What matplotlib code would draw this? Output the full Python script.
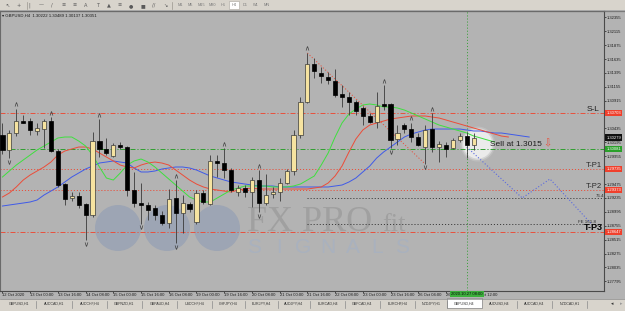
import numpy as np
import matplotlib
matplotlib.use('Agg')
import matplotlib.pyplot as plt
from matplotlib.patches import Rectangle, Circle
from matplotlib.transforms import blended_transform_factory, ScaledTranslation, IdentityTransform, offset_copy

plt.rcParams['font.family'] = ['Liberation Sans', 'DejaVu Sans']
plt.rcParams['lines.scale_dashes'] = False

# ---------------- data (GBPUSD H4) ----------------
opens = [1.30323, 1.30063, 1.30357, 1.30564, 1.30564, 1.30400, 1.30426, 1.30564, 1.30046, 1.29476,
         1.29235, 1.29269, 1.29131, 1.28941, 1.30219, 1.30081, 1.29960, 1.30150, 1.30115, 1.29373,
         1.29148, 1.29114, 1.29062, 1.28941, 1.28803, 1.29235, 1.28975, 1.29131, 1.28820, 1.29321,
         1.29131, 1.29874, 1.29839, 1.29718, 1.29338, 1.29407, 1.29347, 1.29545, 1.29148, 1.29304,
         1.29330, 1.29502, 1.29709, 1.30323, 1.30898, 1.31544, 1.31398, 1.31329, 1.31260, 1.31025,
         1.30974, 1.30898, 1.30784, 1.30651, 1.30552, 1.30858, 1.30858, 1.30245, 1.30495, 1.30421,
         1.30288, 1.30115, 1.30426, 1.30107, 1.30150, 1.30093, 1.30228, 1.30310, 1.30158]
highs = [1.30530, 1.30409, 1.30772, 1.30668, 1.30616, 1.30530, 1.30599, 1.30633, 1.30081, 1.29494,
         1.29338, 1.29338, 1.29148, 1.30374, 1.30599, 1.30271, 1.30184, 1.30202, 1.30133, 1.29684,
         1.29494, 1.29165, 1.29114, 1.29010, 1.29390, 1.29545, 1.29286, 1.29165, 1.29373, 1.29373,
         1.29977, 1.29977, 1.30098, 1.29753, 1.29459, 1.29459, 1.29597, 1.29718, 1.29649, 1.29425,
         1.29580, 1.29735, 1.30409, 1.30979, 1.31739, 1.31652, 1.31497, 1.31416, 1.31457, 1.31186,
         1.31070, 1.30927, 1.30823, 1.30702, 1.31070, 1.31186, 1.30875, 1.30495, 1.30535, 1.30530,
         1.30357, 1.30495, 1.30702, 1.30224, 1.30207, 1.30271, 1.30352, 1.30379, 1.30357]
lows = [1.29994, 1.29925, 1.30305, 1.30530, 1.30323, 1.30323, 1.30098, 1.30029, 1.29425, 1.29114,
        1.29183, 1.29062, 1.28509, 1.28906, 1.29943, 1.29977, 1.29943, 1.30081, 1.29269, 1.29079,
        1.28786, 1.28855, 1.28855, 1.28768, 1.28716, 1.28457, 1.28630, 1.28993, 1.28786, 1.29131,
        1.29114, 1.29597, 1.29580, 1.29338, 1.29269, 1.29252, 1.29079, 1.28993, 1.29114, 1.29235,
        1.29183, 1.29476, 1.29632, 1.30271, 1.30875, 1.31307, 1.31221, 1.31203, 1.30984, 1.30811,
        1.30668, 1.30668, 1.30495, 1.30530, 1.30443, 1.30754, 1.30098, 1.30150, 1.30362, 1.30207,
        1.30133, 1.29822, 1.30029, 1.29861, 1.29948, 1.30081, 1.30207, 1.29920, 1.30063]
closes = [1.30063, 1.30357, 1.30564, 1.30538, 1.30409, 1.30443, 1.30556, 1.30046, 1.29459, 1.29217,
          1.29269, 1.29114, 1.28941, 1.30219, 1.30081, 1.30012, 1.30150, 1.30124, 1.29373, 1.29148,
          1.29122, 1.29019, 1.28941, 1.28803, 1.29217, 1.28975, 1.29148, 1.29045, 1.29321, 1.29165,
          1.29874, 1.29839, 1.29718, 1.29373, 1.29407, 1.29347, 1.29545, 1.29157, 1.29295, 1.29338,
          1.29502, 1.29706, 1.30323, 1.30898, 1.31544, 1.31433, 1.31341, 1.31272, 1.31013, 1.30974,
          1.30898, 1.30737, 1.30651, 1.30552, 1.30823, 1.30832, 1.30236, 1.30357, 1.30426, 1.30293,
          1.30150, 1.30409, 1.30115, 1.30162, 1.30089, 1.30228, 1.30310, 1.30155, 1.30279]

# Alligator lines (lips green shifted 3, teeth red shifted 5, jaw blue shifted 8)
lips = [1.29597, 1.29701, 1.29804, 1.29891, 1.29977, 1.30064, 1.30133, 1.30202, 1.30271, 1.30288,
        1.30288, 1.30219, 1.30133, 1.29977, 1.29770, 1.29580, 1.29545, 1.29666, 1.29804, 1.29874,
        1.29908, 1.29856, 1.29770, 1.29666, 1.29563, 1.29459, 1.29355, 1.29252, 1.29200, 1.29166,
        1.29166, 1.29235, 1.29304, 1.29373, 1.29407, 1.29442, 1.29442, 1.29442, 1.29442, 1.29425,
        1.29425, 1.29425, 1.29442, 1.29476, 1.29545, 1.29615, 1.29804, 1.30012, 1.30288, 1.30530,
        1.30685, 1.30772, 1.30841, 1.30858, 1.30841, 1.30806, 1.30806, 1.30789, 1.30754, 1.30703,
        1.30651, 1.30599, 1.30547, 1.30495, 1.30461, 1.30426, 1.30392, 1.30357, 1.30305, 1.30271,
        1.30236, 1.30202]
teeth = [1.29252, 1.29321, 1.29425, 1.29545, 1.29632, 1.29701, 1.29770, 1.29856, 1.29977, 1.30046,
         1.30081, 1.30115, 1.30115, 1.30081, 1.30012, 1.29943, 1.29874, 1.29804, 1.29770, 1.29753,
         1.29804, 1.29839, 1.29856, 1.29839, 1.29804, 1.29718, 1.29632, 1.29545, 1.29476, 1.29425,
         1.29390, 1.29373, 1.29355, 1.29338, 1.29373, 1.29390, 1.29407, 1.29390, 1.29390, 1.29390,
         1.29390, 1.29390, 1.29390, 1.29390, 1.29390, 1.29407, 1.29425, 1.29494, 1.29615, 1.29787,
         1.30029, 1.30254, 1.30409, 1.30495, 1.30530, 1.30564, 1.30599, 1.30616, 1.30633, 1.30651,
         1.30651, 1.30651, 1.30633, 1.30616, 1.30582, 1.30547, 1.30513, 1.30478, 1.30443, 1.30409,
         1.30374, 1.30340, 1.30305, 1.30288]
jaw = [1.29096, 1.29114, 1.29131, 1.29148, 1.29166, 1.29200, 1.29286, 1.29355, 1.29425, 1.29511,
       1.29597, 1.29666, 1.29735, 1.29787, 1.29839, 1.29856, 1.29874, 1.29856, 1.29839, 1.29753,
       1.29684, 1.29684, 1.29701, 1.29735, 1.29753, 1.29770, 1.29770, 1.29753, 1.29718, 1.29666,
       1.29615, 1.29580, 1.29545, 1.29511, 1.29494, 1.29476, 1.29459, 1.29442, 1.29442, 1.29442,
       1.29425, 1.29425, 1.29425, 1.29425, 1.29425, 1.29425, 1.29425, 1.29425, 1.29442, 1.29459,
       1.29511, 1.29580, 1.29684, 1.29787, 1.29925, 1.30029, 1.30115, 1.30202, 1.30288, 1.30340,
       1.30374, 1.30409, 1.30426, 1.30426, 1.30426, 1.30426, 1.30426, 1.30409, 1.30392, 1.30392,
       1.30374, 1.30357, 1.30357, 1.30340, 1.30323, 1.30305, 1.30288]

frac_up = [2, 7, 14, 25, 32, 37, 44, 55, 59, 62]
frac_dn = [1, 12, 20, 25, 37, 56, 61]

stop_loss = 1.30703
entry = 1.30081
tp1 = 1.29735
tp2 = 1.29373
tp3 = 1.28647
fib_764 = 1.29235
fe_1618 = 1.28786
fib_start = 44
zigzag_bars = [44, 61]
proj_bars = [67, 75, 79, 85]
proj_prices = [1.30115, 1.29235, 1.29563, 1.28786]
signal_bar = 67

axis_ticks = [1.32355, 1.32115, 1.31875, 1.31635, 1.31395, 1.31155, 1.30915, 1.30675, 1.30435, 1.30195,
              1.29955, 1.29715, 1.29475, 1.29235, 1.28995, 1.28755, 1.28515, 1.28275, 1.28035, 1.27795]
time_bars = [0, 4, 8, 12, 16, 20, 24, 28, 32, 36, 40, 44, 48, 52, 56, 60, 64, 68]
time_labels = ['12 Oct 2020', '13 Oct 00:00', '13 Oct 16:00', '14 Oct 08:00', '15 Oct 00:00',
               '15 Oct 16:00', '16 Oct 08:00', '19 Oct 00:00', '19 Oct 16:00', '20 Oct 08:00',
               '21 Oct 00:00', '21 Oct 16:00', '22 Oct 08:00', '23 Oct 00:00', '23 Oct 16:00',
               '26 Oct 04:00', '26 Oct 20:00', '27 Oct 12:00']
signal_time = '2020.10.27 08:00'
header = 'GBPUSD,H4  1.30222 1.30489 1.30137 1.30351'
tab_names = ['GBPUSD,H1', 'AUDCAD,H1', 'AUDCHF,H4', 'GBPNZD,H1', 'GBPAUD,H4', 'USDCHF,H4',
             'CHFJPY,H4', 'EURJPY,H4', 'AUDJPY,H4', 'EURCAD,H4', 'GBPCAD,H4', 'EURCHF,H4',
             'NZDJPY,H1', 'GBPUSD,H4', 'AUDUSD,H4', 'AUDCAD,H4', 'NZDCAD,H1']
tab_edges = [2, 36, 72, 107, 142, 177, 212, 245, 278, 310, 345, 380, 415, 447, 482, 517, 552, 587]
active_tab = 'GBPUSD,H4'
timeframes = ['M1', 'M5', 'M15', 'M30', 'H1', 'H4', 'D1', 'W1', 'MN']
active_tf = 'H4'

# ---------------- styles ----------------
W, H = 625, 311
CHART_BG = '#b3b3b3'
PANEL = '#d8d4cc'
BULL = '#f6e3a0'
RED = '#e8503c'
GREEN = '#2f9f2f'
DASHDOT = (0, (3.6, 1.4, 0.8, 1.4))
DOT = (0, (0.8, 1.4))

fig = plt.figure(figsize=(W / 100, H / 100), dpi=100)
fig.patch.set_facecolor(CHART_BG)

# background / window chrome (pixel coordinates)
bg = fig.add_axes([0, 0, 1, 1], zorder=0)
bg.set_xlim(0, W)
bg.set_ylim(H, 0)
bg.axis('off')
bg.add_patch(Rectangle((0, 0), W, H, fc=CHART_BG, ec='none'))
bg.add_patch(Rectangle((0, 0), W, 10.3, fc=PANEL, ec='none'))
bg.plot([0, W], [10.6, 10.6], color='#7a7a7a', lw=0.9)

icons = ['↖', '+', '|', '—', '/', '≡', '≡', 'A', 'T', '▲', '≡', '●', '■', '//', '↘']
for k, g in enumerate(icons):
    bg.text(7 + k * 11.3, 5.2, g, fontsize=3.6, color='#5a5a5a', ha='center', va='center',
            family=['DejaVu Sans'])
for sx in (27, 172):
    bg.plot([sx, sx], [1.5, 9], color='#9a968e', lw=0.5)
for k, tf in enumerate(timeframes):
    cx = 180 + k * 10.8
    if tf == active_tf:
        bg.add_patch(Rectangle((cx - 5, 1.2), 10, 8, fc='#ffffff', ec='#a8a49c', lw=0.4))
    bg.text(cx, 5.3, tf, fontsize=2.8, color='#7a7a7a', ha='center', va='center')

bg.text(2.5, 15.3, '▾ ' + header, fontsize=3.1, color='#1a1a1a', ha='left', va='center')

# tabs
bg.add_patch(Rectangle((0, 298.5), W, 12.5, fc=PANEL, ec='none'))
bg.plot([0, W], [298.7, 298.7], color='#8a8a8a', lw=0.5)
for k, name in enumerate(tab_names):
    x0, x1 = tab_edges[k], tab_edges[k + 1]
    if name == active_tab:
        bg.add_patch(Rectangle((x0, 297.8), x1 - x0, 10.5, fc='#ffffff', ec='#808080', lw=0.5))
    else:
        bg.plot([x1, x1], [300.5, 308], color='#8a8a8a', lw=0.5)
    bg.text((x0 + x1) / 2, 304, name, fontsize=2.6, color='#333333', ha='center', va='center')
bg.text(612, 304, '◂', fontsize=3.5, color='#333333', ha='center', va='center', family=['DejaVu Sans'])
bg.text(621, 304, '▸', fontsize=3.5, color='#999999', ha='center', va='center', family=['DejaVu Sans'])

# watermark
for cx in (118, 167, 217):
    bg.add_patch(Circle((cx, 228), 23, fc='#9da5b4', ec='none'))
bg.text(247, 231, 'FX PRO', family='Liberation Serif', fontsize=26, color='#a0a0a0',
        ha='left', va='baseline')
bg.text(382, 231, 'fit', family='Liberation Serif', fontsize=19, color='#a0a0a0',
        ha='left', va='baseline')
for k, ch in enumerate('SIGNALS'):
    bg.text(254 + k * 24.6, 253, ch, fontsize=15, color='#a9b1be', ha='center', va='baseline')

# ---------------- main price chart ----------------
ax_top, ax_bottom, ax_right = 11, 290.7, 604
ax = fig.add_axes([0, 1 - ax_bottom / H, ax_right / W, (ax_bottom - ax_top) / H], zorder=1)
ax.patch.set_alpha(0)
ax.set_xlim(-0.35, 86.8)
ax.set_ylim(1.27634, 1.32464)
for side in ('left', 'top'):
    ax.spines[side].set_color('#6a6a6a')
    ax.spines[side].set_linewidth(0.8)
for side in ('right', 'bottom'):
    ax.spines[side].set_color('#4a4a4a')
    ax.spines[side].set_linewidth(0.8)

o = np.array(opens); h = np.array(highs); l = np.array(lows); c = np.array(closes)
idx = np.arange(len(o))
bull = c >= o

# prices shown in coloured boxes on the axis; grey tick labels underneath them are hidden
boxed = [stop_loss, c[-1], entry, tp1, tp2, tp3]
ax.yaxis.tick_right()
ax.set_yticks(axis_ticks)
ax.set_yticklabels(['' if min(abs(v - b) for b in boxed) < 0.0005 else f'{v:.5f}' for v in axis_ticks])
ax.tick_params(axis='y', length=1.5, width=0.5, pad=0.8, labelsize=3, colors='#1a1a1a')
ax.set_xticks(time_bars)
ax.set_xticklabels(time_labels, ha='left')
ax.tick_params(axis='x', length=1.2, width=0.5, pad=0.6, labelsize=3, colors='#1a1a1a')

# glow around the signal bar
glow_tr = IdentityTransform() + ScaledTranslation(idx[-1], c[-1], ax.transData)
for r, a in ((17.5, 0.15), (16, 0.35), (14.5, 0.55)):
    ax.add_patch(Circle((4, -6.5), r, transform=glow_tr, fc='#ffffff', ec='none', alpha=a, zorder=1))

# levels
ax.axhline(stop_loss, color=RED, lw=0.7, ls=DASHDOT, zorder=1.5)
ax.axhline(entry, color=GREEN, lw=0.7, ls=DASHDOT, zorder=1.5)
ax.axhline(tp1, color=RED, lw=0.7, ls=DOT, zorder=1.5)
ax.axhline(tp2, color=RED, lw=0.7, ls=DOT, zorder=1.5)
ax.axhline(tp3, color=RED, lw=0.7, ls=DASHDOT, zorder=1.5)
ax.hlines([fib_764, fe_1618], fib_start, 86.8, color='#2a2a2a', lw=0.6, ls=DOT, zorder=1.5)
ax.axvline(signal_bar, color=GREEN, lw=0.6, ls=DOT, zorder=1.5)

# alligator
ax.plot(np.arange(len(jaw)), jaw, color='#3f5ae8', lw=0.7, zorder=2)
ax.plot(np.arange(len(teeth)), teeth, color='#ec4c38', lw=0.7, zorder=2)
ax.plot(np.arange(len(lips)), lips, color='#3ee03e', lw=0.7, zorder=2)

# zigzag / projection
ax.plot(zigzag_bars, [h[zigzag_bars[0]], l[zigzag_bars[1]]], color=RED, lw=0.7, ls=DOT, zorder=2)
ax.plot(proj_bars, proj_prices, color='#5a6ae0', lw=0.8, ls=DOT, zorder=2)

# candles
ax.vlines(idx, l, h, color='#3a3a3a', lw=0.6, zorder=3)
ax.bar(idx[bull], (c - o)[bull], bottom=o[bull], width=0.6, color=BULL,
       edgecolor='#3a3a3a', lw=0.5, zorder=4)
ax.bar(idx[~bull], (o - c)[~bull], bottom=c[~bull], width=0.6, color='#000000',
       edgecolor='#000000', lw=0.5, zorder=4)

# fractals
up_tr = offset_copy(ax.transData, fig=fig, x=0, y=4.5, units='dots')
dn_tr = offset_copy(ax.transData, fig=fig, x=0, y=-3.5, units='dots')
ax.scatter(frac_up, h[frac_up], marker=r'$\wedge$', s=9, color='#3c3c3c', linewidths=0,
           transform=up_tr, zorder=5)
ax.scatter(frac_dn, l[frac_dn], marker=r'$\vee$', s=9, color='#3c3c3c', linewidths=0,
           transform=dn_tr, zorder=5)

# texts on chart
ty = blended_transform_factory(ax.transAxes, ax.transData)
ax.text(70.3, entry, 'Sell at 1.3015', fontsize=6, color='#1e1e1e', ha='left', va='bottom',
        transform=offset_copy(ax.transData, fig=fig, x=0, y=0.5, units='dots'), zorder=6)
ax.text(78.1, entry, '⇩', fontsize=7, color=RED, ha='left', va='bottom', family=['DejaVu Sans'],
        transform=offset_copy(ax.transData, fig=fig, x=0, y=0.5, units='dots'), zorder=6)
ax.text(587 / 604, stop_loss, 'S-L', fontsize=6, color='#1e1e1e', ha='left', va='bottom', transform=ty, zorder=6)
ax.text(586 / 604, tp1, 'T-P1', fontsize=5.5, color='#2a2a2a', ha='left', va='bottom', transform=ty, zorder=6)
ax.text(586 / 604, tp2, 'T-P2', fontsize=5.5, color='#2a2a2a', ha='left', va='bottom', transform=ty, zorder=6)
ax.text(584 / 604, tp3, 'T-P3', fontsize=6.5, color='#000000', ha='left', va='bottom', transform=ty,
        fontweight='bold', zorder=6)
ax.text(596 / 604, fib_764, '76.4', fontsize=3.2, color='#2a2a2a', ha='left', va='bottom', transform=ty, zorder=6)
ax.text(578 / 604, fe_1618, 'FE 161.8', fontsize=3.2, color='#2a2a2a', ha='left', va='bottom', transform=ty, zorder=6)

# coloured price labels on the axis
def price_box(price, fc, tc):
    ax.text(1.004, price, f'{price:.5f}', transform=ty, fontsize=3, color=tc, ha='left', va='center',
            clip_on=False, zorder=10,
            bbox=dict(boxstyle='square,pad=0.25', fc=fc, ec='none'))

price_box(stop_loss, '#f0402c', '#ffffff')
price_box(c[-1], '#101010', '#ffffff')
price_box(entry, '#2aa02a', '#ffffff')
price_box(tp1, '#f0402c', '#ffffff')
price_box(tp2, '#f0402c', '#ffffff')
price_box(tp3, '#f0402c', '#ffffff')

tx = blended_transform_factory(ax.transData, ax.transAxes)
ax.text(signal_bar, -0.0125, signal_time, transform=tx, fontsize=3, color='#0a0a0a', ha='center',
        va='center', clip_on=False, zorder=10,
        bbox=dict(boxstyle='square,pad=0.3', fc='#3cb03c', ec='none'))

fig.savefig('out.png', dpi=100, facecolor=CHART_BG)
